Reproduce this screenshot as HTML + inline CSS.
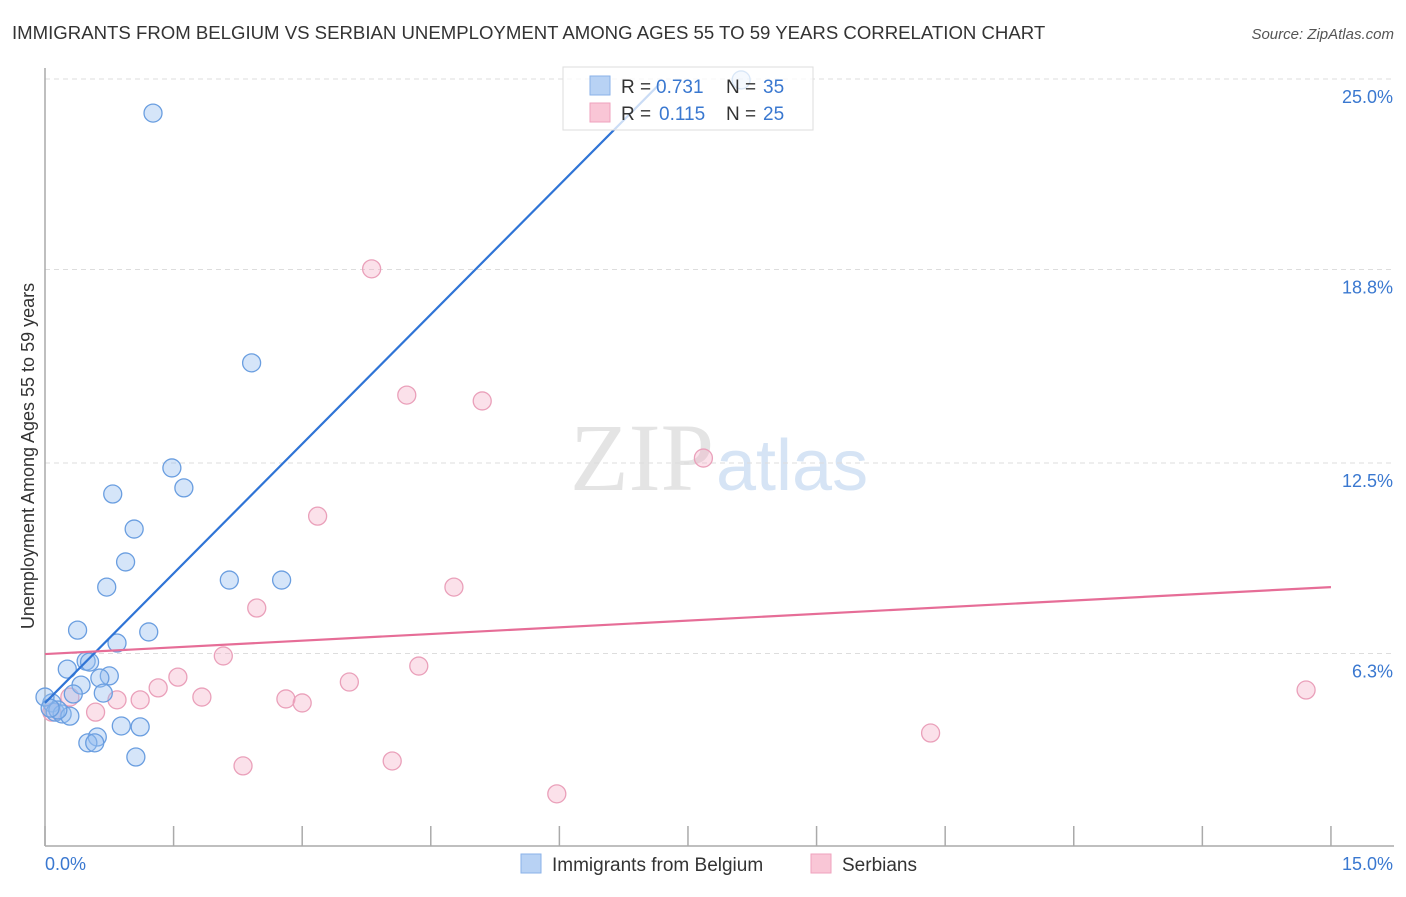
<!DOCTYPE html>
<html><head><meta charset="utf-8"><style>
body{margin:0;background:#fff;font-family:"Liberation Sans",sans-serif;}
</style></head><body>
<svg id="chart" width="1406" height="892" xmlns="http://www.w3.org/2000/svg">
<text x="12" y="39" font-size="18.6" fill="#333">IMMIGRANTS FROM BELGIUM VS SERBIAN UNEMPLOYMENT AMONG AGES 55 TO 59 YEARS CORRELATION CHART</text>
<text x="1394" y="39" font-size="15" fill="#555" font-style="italic" text-anchor="end">Source: ZipAtlas.com</text>
<text x="714" y="490" font-size="96" fill="#e4e4e4" font-family="Liberation Serif" text-anchor="end">ZIP</text>
<text x="716" y="490" font-size="72" fill="#d6e4f5">atlas</text>
<g id="grid"></g>
<line x1="45" y1="68" x2="45" y2="846" stroke="#aaa" stroke-width="1.5"/>
<line x1="45" y1="846" x2="1394" y2="846" stroke="#aaa" stroke-width="1.5"/>
<g id="xt"></g>
<text transform="translate(34,456) rotate(-90)" font-size="18" fill="#333" text-anchor="middle">Unemployment Among Ages 55 to 59 years</text>
<g id="pts"></g>
<g id="lines"></g>
<g>
<rect x="563" y="67" width="250" height="63" fill="rgba(255,255,255,0.75)" stroke="#ddd"/>
<rect x="590" y="76" width="20" height="19" fill="#b8d2f4" stroke="#8ab2e8"/>
<rect x="590" y="103" width="20" height="19" fill="#f9c6d6" stroke="#efa2bd"/>
<text x="621" y="93" font-size="19" fill="#333">R =</text>
<text x="656" y="93" font-size="19" fill="#3a78d0">0.731</text>
<text x="726" y="93" font-size="19" fill="#333">N =</text>
<text x="763" y="93" font-size="19" fill="#3a78d0">35</text>
<text x="621" y="120" font-size="19" fill="#333">R =</text>
<text x="659" y="120" font-size="19" fill="#3a78d0">0.115</text>
<text x="726" y="120" font-size="19" fill="#333">N =</text>
<text x="763" y="120" font-size="19" fill="#3a78d0">25</text>
</g>
<g>
<rect x="521" y="854" width="20" height="19" fill="#b8d2f4" stroke="#8ab2e8"/>
<text x="552" y="871" font-size="19" fill="#333">Immigrants from Belgium</text>
<rect x="811" y="854" width="20" height="19" fill="#f9c6d6" stroke="#efa2bd"/>
<text x="842" y="871" font-size="19" fill="#333">Serbians</text>
</g>
</svg>
<script>
const blueX=[1.26,8.12,2.41,1.48,1.62,0.79,1.04,0.94,0.72,2.15,2.76,0.38,1.21,0.84,0.48,0.52,0.26,0.75,0.42,0.64,0.68,0.33,0.08,0.12,0.20,0.29,0.15,0.89,1.11,0.61,0.50,0.58,1.06,0.0,0.06];
const blueY=[23.89,24.97,15.76,12.34,11.69,11.49,10.35,9.28,8.46,8.69,8.69,7.06,7.00,6.64,6.05,6.02,5.79,5.57,5.27,5.50,5.01,4.98,4.69,4.39,4.33,4.26,4.46,3.94,3.91,3.58,3.39,3.39,2.93,4.88,4.52];
const pinkX=[3.81,4.22,5.10,7.68,3.18,4.77,2.47,2.08,4.36,1.55,3.55,1.32,14.71,1.83,0.84,1.11,2.81,3.00,0.59,0.29,0.08,10.33,2.31,4.05,5.97];
const pinkY=[18.82,14.71,14.52,12.66,10.77,8.46,7.78,6.22,5.89,5.53,5.37,5.18,5.11,4.88,4.79,4.79,4.82,4.69,4.39,4.88,4.39,3.71,2.64,2.80,1.73];
const blueLine=[0,4.69,7.17,24.84];
const pinkLine=[0,6.28,15,8.46];
const yTicks=[25.0,18.8,12.5,6.3];
const yTickLabels=["25.0%","18.8%","12.5%","6.3%"];
const xTicks=[0,1.5,3,4.5,6,7.5,9,10.5,12,13.5,15];
const NS="http://www.w3.org/2000/svg";
const sx=v=>45+v*85.73, sy=v=>847-v*30.72;
function mk(t,a,p){const e=document.createElementNS(NS,t);for(const k in a)e.setAttribute(k,a[k]);p.appendChild(e);return e;}
const grid=document.getElementById('grid');
yTicks.forEach((v,i)=>{
 const l=mk('line',{x1:45,x2:1394,y1:sy(v),y2:sy(v),stroke:'#ddd','stroke-dasharray':'5,4'},grid);
 
 
 const t=mk('text',{x:1393,y:sy(v)+24,'font-size':18,fill:'#3a78d0','text-anchor':'end'},grid);
 t.textContent=yTickLabels[i];
 
 
});
const xt=document.getElementById('xt');
xTicks.forEach(v=>{const l=mk('line',{x1:sx(v),x2:sx(v),y1:826,y2:846,stroke:'#aaa','stroke-width':1.5},xt);
 
 });
const x0=mk('text',{x:45,y:870,'font-size':18,fill:'#3a78d0'},xt);x0.textContent='0.0%';


const x1=mk('text',{x:1393,y:870,'font-size':18,fill:'#3a78d0','text-anchor':'end'},xt);x1.textContent='15.0%';


const pts=document.getElementById('pts');
pinkX.forEach((v,i)=>{const c=mk('circle',{cx:sx(v),cy:sy(pinkY[i]),r:9,fill:'rgba(244,170,195,0.35)',stroke:'#eaa0ba','stroke-width':1.3},pts);
 
 });
blueX.forEach((v,i)=>{const c=mk('circle',{cx:sx(v),cy:sy(blueY[i]),r:9,fill:'rgba(150,190,240,0.4)',stroke:'#6a9ee0','stroke-width':1.3},pts);
 
 });
const ln=document.getElementById('lines');
const bl=mk('line',{x1:sx(blueLine[0]),y1:sy(blueLine[1]),x2:sx(blueLine[2]),y2:sy(blueLine[3]),stroke:'#2f74d6','stroke-width':2.2},ln);


const pl=mk('line',{x1:sx(pinkLine[0]),y1:sy(pinkLine[1]),x2:sx(pinkLine[2]),y2:sy(pinkLine[3]),stroke:'#e66d97','stroke-width':2.2},ln);


</script>
</body></html>
